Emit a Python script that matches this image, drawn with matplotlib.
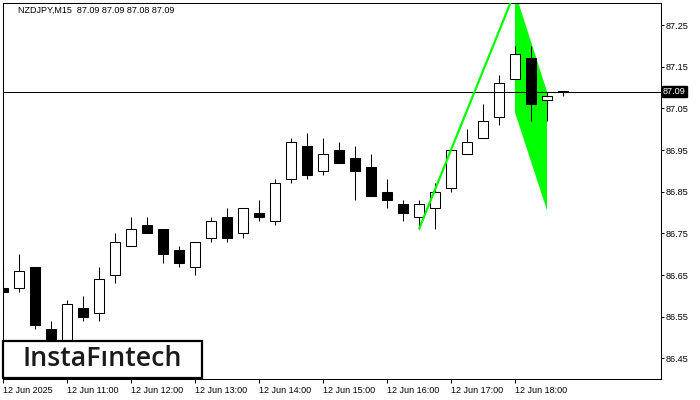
import matplotlib
matplotlib.use("Agg")
import matplotlib.pyplot as plt
import matplotlib.patches as mpatches
import numpy as np

# ---- data ----
symbol_text = "NZDJPY,M15  87.09 87.09 87.08 87.09"
opens  = [86.62, 86.62, 86.67, 86.52, 86.47, 86.57, 86.56, 86.65, 86.72, 86.77,
          86.76, 86.71, 86.67, 86.74, 86.79, 86.75, 86.80, 86.78, 86.88, 86.96,
          86.90, 86.95, 86.93, 86.91, 86.85, 86.82, 86.79, 86.81, 86.86, 86.94,
          86.98, 87.03, 87.12, 87.17, 87.07, 87.09]
highs  = [86.67, 86.70, 86.67, 86.54, 86.59, 86.60, 86.67, 86.75, 86.79, 86.79,
          86.76, 86.72, 86.73, 86.79, 86.81, 86.81, 86.83, 86.88, 86.98, 86.99,
          86.98, 86.97, 86.96, 86.94, 86.88, 86.83, 86.83, 86.87, 86.95, 87.00,
          87.06, 87.13, 87.20, 87.20, 87.09, 87.09]
lows   = [86.56, 86.61, 86.52, 86.45, 86.45, 86.54, 86.54, 86.63, 86.72, 86.75,
          86.68, 86.67, 86.65, 86.73, 86.73, 86.74, 86.78, 86.77, 86.87, 86.88,
          86.89, 86.92, 86.83, 86.84, 86.81, 86.78, 86.76, 86.76, 86.85, 86.94,
          86.98, 87.01, 87.12, 87.02, 87.02, 87.08]
closes = [86.61, 86.66, 86.53, 86.47, 86.58, 86.55, 86.64, 86.73, 86.76, 86.75,
          86.70, 86.68, 86.73, 86.78, 86.74, 86.81, 86.79, 86.87, 86.97, 86.89,
          86.94, 86.92, 86.90, 86.84, 86.83, 86.80, 86.82, 86.85, 86.95, 86.97,
          87.02, 87.11, 87.18, 87.06, 87.08, 87.09]
current_price = 87.09
y_ticks = [86.45, 86.55, 86.65, 86.75, 86.85, 86.95, 87.05, 87.15, 87.25]
x_tick_idx = [0, 4, 8, 12, 16, 20, 24, 28, 32]
x_tick_labels = ["12 Jun 2025", "12 Jun 11:00", "12 Jun 12:00", "12 Jun 13:00",
                 "12 Jun 14:00", "12 Jun 15:00", "12 Jun 16:00", "12 Jun 17:00",
                 "12 Jun 18:00"]
# bearish flag pattern
pole_x = [26, 32]
pole_y = [86.76, 87.33]
flag_x = [32, 34, 34, 32]
flag_y = [87.33, 87.09, 86.805, 87.04]
logo_text = "InstaF\u0131ntech"

# ---- figure ----
W, H = 700, 400
fig = plt.figure(figsize=(7, 4), dpi=100)
fig.patch.set_facecolor("white")
L, R, T, B = 2.5, 660.5, 2.5, 378.5
ax = fig.add_axes([L / W, 1 - B / H, (R - L) / W, (B - T) / H])
ax.set_facecolor("white")

ppx = 16.0  # pixels per candle
ax.set_xlim((L - 3) / ppx, (R - 3) / ppx)
ppy = 416.7  # pixels per price unit
ax.set_ylim(87.25 - (B - 25) / ppy, 87.25 + (25 - T) / ppy)

GREEN = "#00FF00"
lw1 = 0.75

# flag polygon behind candles
ax.fill(flag_x, flag_y, color=GREEN, lw=0, zorder=1)

idx = np.arange(len(opens))
o = np.array(opens); c = np.array(closes); h = np.array(highs); l = np.array(lows)
ax.vlines(idx, l, h, color="black", lw=lw1, zorder=2)
bw = 9.7 / ppx
bull = c >= o
bottoms = np.minimum(o, c)
heights = np.maximum(np.abs(c - o), 0.0005)
ax.bar(idx[bull], heights[bull], bottom=bottoms[bull], width=bw,
       facecolor="white", edgecolor="black", lw=lw1, zorder=3)
ax.bar(idx[~bull], heights[~bull], bottom=bottoms[~bull], width=bw,
       facecolor="black", edgecolor="black", lw=lw1, zorder=3)

# current price line
ax.axhline(current_price, color="black", lw=lw1, zorder=4)

# flag pole
ax.plot(pole_x, pole_y, color=GREEN, lw=1.6, zorder=5, solid_capstyle="butt")

# axes styling
for s in ax.spines.values():
    s.set_color("black")
    s.set_linewidth(lw1)
ax.yaxis.tick_right()
ax.set_yticks(y_ticks)
ax.set_yticklabels([f"{v:.2f}" for v in y_ticks])
ax.set_xticks(x_tick_idx)
ax.set_xticklabels(x_tick_labels)
FONT = "Liberation Sans"
ax.tick_params(axis="y", direction="out", length=2.5, width=lw1, pad=1.5,
               labelsize=6.6, colors="black")
ax.tick_params(axis="x", direction="out", length=3, width=lw1, pad=2.5,
               labelsize=6.5, colors="black")
for t in ax.get_yticklabels() + ax.get_xticklabels():
    t.set_fontfamily(FONT)
for t in ax.get_xticklabels():
    t.set_horizontalalignment("left")

# price label
ax.annotate(f"{current_price:.2f}", xy=((663 - L) / (R - L), current_price),
            xycoords=("axes fraction", "data"), ha="left", va="center",
            fontsize=6.6, family=FONT, color="white", zorder=10,
            annotation_clip=False,
            bbox=dict(boxstyle="square,pad=0.12", fc="black", ec="black"))

# title
fig.text(18 / W, 1 - 10.7 / H, symbol_text, ha="left", va="center",
         fontsize=6.5, family=FONT, color="black")

# logo box
rect = mpatches.Rectangle((2.7 / W, 1 - 378.3 / H), (202 - 2.7) / W, (378.3 - 340.7) / H,
                          transform=fig.transFigure, facecolor="white",
                          edgecolor="black", lw=1.6, zorder=20)
fig.patches.append(rect)
lt = fig.text(102.5 / W, 1 - 359 / H, logo_text, ha="center", va="center",
              fontsize=18, family="Open Sans", fontweight="semibold",
              color="#1a1a1a", zorder=21)
fig.canvas.draw()
bb = lt.get_window_extent(fig.canvas.get_renderer())
lt.set_fontsize(18 * 159.0 / bb.width)

fig.savefig("out.png", dpi=100, facecolor="white")
